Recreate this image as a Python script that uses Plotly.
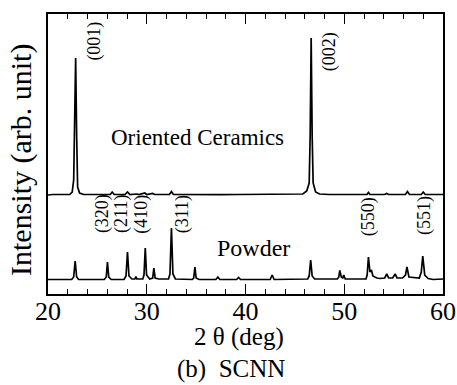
import plotly.graph_objects as go

# ---- data ----
# Oriented ceramics pattern: 2theta (deg) and intensity (arb. unit, baseline ~0)
oriented_2theta = [20.0, 20.5, 22.2, 22.45, 22.6, 22.7, 22.8, 22.9, 23.0, 23.2, 23.6,
                   26.3, 26.5, 26.7, 27.8, 28.05, 28.3, 29.0, 29.2, 29.8, 30.0, 30.6, 30.8,
                   32.3, 32.5, 32.7, 35.0, 37.5, 39.3, 44.5, 45.8, 46.2, 46.45, 46.55, 46.65,
                   46.75, 46.85, 47.1, 47.5, 48.5, 52.3, 52.45, 52.6, 54.1, 54.3, 54.5,
                   56.2, 56.4, 56.6, 57.8, 58.0, 58.2, 60.0]
oriented_int = [0, 0.5, 0.5, 3, 15, 80, 137, 60, 8, 2, 0.5,
                0.5, 3, 0.5, 0.5, 3, 0.5, 1, 0.5, 2, 0.5, 1.5, 0.5,
                0.5, 3.5, 0.5, 0.2, 0.3, 0.5, 0.5, 1, 4, 12, 60, 157,
                60, 12, 3, 1, 0.5, 0.5, 2.5, 0.5, 0.5, 1.5, 0.5,
                0.5, 3.5, 0.5, 0.5, 3, 0.5, 0.5]

# Powder pattern
powder_2theta = [20.0, 22.4, 22.6, 22.75, 22.9, 23.1, 25.7, 25.9, 26.02, 26.15, 26.4,
                 27.7, 27.9, 28.05, 28.2, 28.5, 28.8, 28.9, 29.0, 29.6, 29.72, 29.85, 29.98,
                 30.3, 30.6, 30.72, 30.85, 31.2, 32.2, 32.35, 32.5, 32.65, 32.9,
                 34.6, 34.75, 34.88, 35.0, 35.3, 37.0, 37.2, 37.4, 39.1, 39.3, 39.5,
                 42.5, 42.7, 42.9, 46.3, 46.45, 46.6, 46.75, 47.0, 49.3, 49.45, 49.55,
                 49.7, 49.85, 49.95, 50.1, 52.2, 52.32, 52.45, 52.6, 52.75, 52.9, 53.3,
                 53.6, 54.1, 54.3, 54.5, 54.9, 55.15, 55.35, 55.9, 56.2, 56.35, 56.55,
                 57.6, 57.8, 57.95, 58.15, 58.5, 59.0, 59.5, 60.0]
powder_int = [0.5, 0.5, 3, 19, 3, 0.5, 0.5, 3, 18, 3, 0.5,
              0.5, 4, 28, 4, 1, 1, 3.5, 1, 1, 5, 32, 5,
              1, 2, 12, 2, 1, 1, 6, 52, 6, 1,
              0.5, 2, 13, 2, 0.5, 0.5, 3, 0.5, 0.5, 2.5, 0.5,
              0.5, 5, 0.5, 1, 4, 20, 4, 1, 1, 3, 9.5,
              3, 2, 5, 1, 1, 5, 23, 8, 10, 4, 2,
              1.5, 2, 6, 2, 2, 6, 2, 2, 5, 13, 3,
              2, 8, 24, 5, 1.5, 0.5, 1, 1]

x_ticks = [20, 30, 40, 50, 60]
peak_labels = ["(001)", "(002)", "(320)", "(211)", "(410)", "(311)", "(550)", "(551)"]

# vertical stacking offsets (layout)
ORIENTED_OFFSET = 99
POWDER_OFFSET = 14

FONT = "Times New Roman, Liberation Serif, serif"

fig = go.Figure()
fig.add_trace(go.Scatter(x=oriented_2theta, y=[v + ORIENTED_OFFSET for v in oriented_int],
                         mode="lines", line=dict(color="black", width=1.7), showlegend=False,
                         hoverinfo="skip"))
fig.add_trace(go.Scatter(x=powder_2theta, y=[v + POWDER_OFFSET for v in powder_int],
                         mode="lines", line=dict(color="black", width=1.7), showlegend=False,
                         hoverinfo="skip"))

label_pos = [(24.62, 253), (48.53, 242.5), (25.48, 80), (27.38, 80), (29.39, 80),
             (33.6, 80), (52.44, 77), (58.07, 79)]
for txt, (lx, ly) in zip(peak_labels, label_pos):
    fig.add_annotation(x=lx, y=ly, xref="x", yref="y", text=txt, showarrow=False,
                       textangle=-90, font=dict(family=FONT, size=18, color="black"))

fig.add_annotation(x=35.1, y=157, xref="x", yref="y", text="Oriented Ceramics",
                   showarrow=False, font=dict(family=FONT, size=23, color="black"))
fig.add_annotation(x=40.8, y=46, xref="x", yref="y", text="Powder",
                   showarrow=False, font=dict(family=FONT, size=24, color="black"))

# axis titles / caption (pixel positions from top-left, converted below)
fig.add_annotation(x=239, y=385 - 337, xref="paper", yref="paper", text="2 θ (deg)",
                   showarrow=False, font=dict(family=FONT, size=25, color="black"))
fig.add_annotation(x=231, y=385 - 369, xref="paper", yref="paper", text="(b)  SCNN",
                   showarrow=False, font=dict(family=FONT, size=25, color="black"))
fig.add_annotation(x=21, y=385 - 160, xref="paper", yref="paper", text="Intensity (arb. unit)",
                   showarrow=False, textangle=-90,
                   font=dict(family=FONT, size=30, color="black"))

fig.update_layout(
    width=457, height=385, autosize=False,
    margin=dict(l=48, r=14, t=14, b=91, autoexpand=False),
    paper_bgcolor="white", plot_bgcolor="white",
    xaxis=dict(range=[20, 60], tickvals=x_ticks, ticks="inside", ticklen=10, tickwidth=1.2,
               tickcolor="black", showline=True, linecolor="black", linewidth=1.5,
               mirror="ticks", showgrid=False, zeroline=False, ticklabelstandoff=-7,
               automargin=False,
               tickfont=dict(family=FONT, size=26, color="black"),
               minor=dict(dtick=2, ticks="inside", ticklen=5, tickwidth=1, tickcolor="black",
                          showgrid=False)),
    yaxis=dict(range=[0, 280], showticklabels=False, ticks="", showline=True, automargin=False,
               linecolor="black", linewidth=1.5, mirror=True, showgrid=False, zeroline=False),
)

# convert paper-pixel annotation coords to paper fractions
pw, ph = 457 - 48 - 14, 385 - 14 - 91
for a in fig.layout.annotations:
    if a.xref == "paper":
        a.x = (a.x - 48) / pw
        a.y = (a.y - 91) / ph
        a.xanchor = "center"
        a.yanchor = "middle"

fig.write_html("out.html", config={"displayModeBar": False, "responsive": False},
               post_script="document.body.style.margin='0';document.body.style.overflow='hidden';")
